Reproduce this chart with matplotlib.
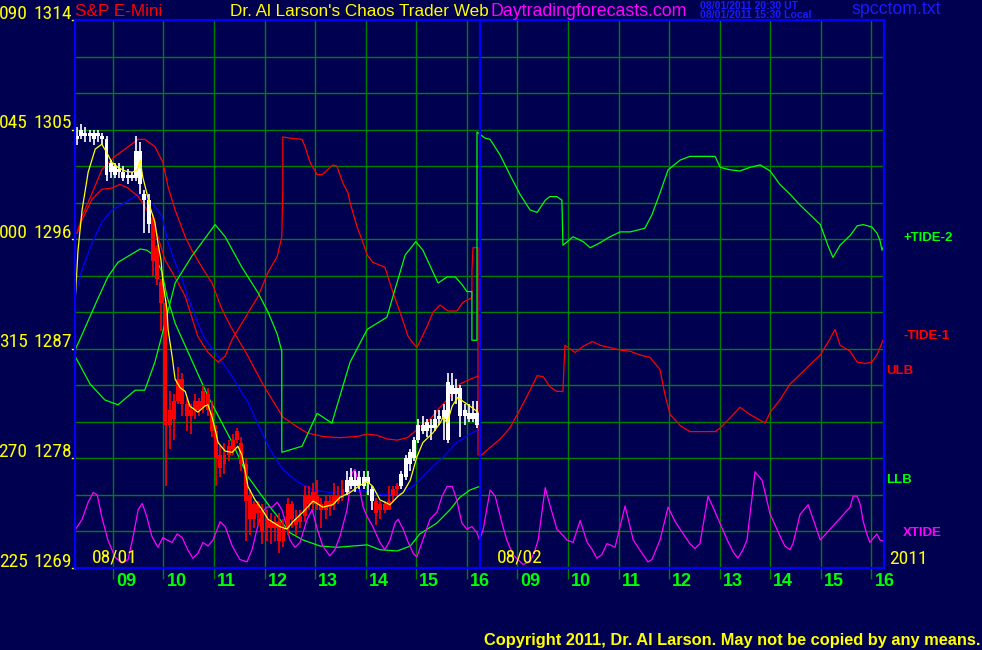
import numpy as np
import matplotlib
matplotlib.use('Agg')
import matplotlib.pyplot as plt
from matplotlib import font_manager as fm
from matplotlib.transforms import blended_transform_factory

names = {f.name for f in fm.fontManager.ttflist}
SANS = 'Liberation Sans' if 'Liberation Sans' in names else 'DejaVu Sans'
NARROW = None
NARROW_STRETCH = 'normal'
for nm in ['Liberation Sans Narrow', 'Arial Narrow', 'Roboto Condensed', 'Open Sans Condensed',
           'Noto Sans Condensed', 'DejaVu Sans Condensed']:
    if nm in names:
        NARROW = nm
        break
if NARROW is None:
    conds = [f for f in fm.fontManager.ttflist
             if f.stretch in ('condensed', 'semi-condensed', 'extra-condensed')
             and f.style == 'normal' and f.weight in (400, 'normal', 'regular')]
    if conds:
        NARROW = conds[0].name
        NARROW_STRETCH = conds[0].stretch
if NARROW is None:
    NARROW = SANS
    NARROW_SIZE = 12.3
else:
    NARROW_SIZE = 14

BG = '#000050'
GRID = '#008000'
BLUE = '#0000FF'
RED = '#FF0000'
GREEN = '#00FF00'
YELLOW = '#FFFF00'
MAGENTA = '#FF00FF'
WHITE = '#FFFFFF'

# ---------------- data ----------------
# axis: session hours from 08:15 of 08/01 (0) to 16:15 of 08/02 (16)
angle_labels = ['090', '045', '000', '315', '270', '225']
price_labels = [1314, 1305, 1296, 1287, 1278, 1269]
hour_labels = ['09', '10', '11', '12', '13', '14', '15', '16']

# 5-minute bars of 08/01
bar_open = [1304.25, 1304.5, 1304.75, 1304.5, 1304.75, 1304.5, 1304.5, 1304.25, 1301.5, 1302,
            1301.5, 1301.5, 1301, 1301.25, 1301, 1303.25, 1299.75, 1299.25, 1297.75, 1295.25,
            1292.5, 1290.75, 1280.75, 1281.25, 1282.75, 1284.5, 1282.5, 1281.5, 1282, 1282.75,
            1282.25, 1283.25, 1281.75, 1280.25, 1278.25, 1277.5, 1278.25, 1278.75, 1279.5, 1279.25,
            1277.5, 1275, 1273, 1274.25, 1273.75, 1272.25, 1272.75, 1272.25, 1272.75, 1271.25,
            1272.25, 1274.25, 1273, 1272.75, 1273.25, 1275, 1274.25, 1275, 1274.25, 1273.75,
            1274.5, 1274.25, 1275, 1274.75, 1275.25, 1275.75, 1276.25, 1275.75, 1276.5, 1276,
            1275.5, 1274.5, 1273.75, 1274.25, 1273.75, 1275, 1275.5, 1275.75, 1276.5, 1277.5,
            1278, 1279.5, 1280.75, 1280.25, 1280.75, 1280.5, 1281.25, 1281.25, 1279.5, 1284,
            1283.25, 1283.75, 1281.5, 1281.75, 1281.25, 1281.75]
bar_high = [1305.25, 1305.5, 1305.25, 1305, 1305, 1305, 1304.75, 1304.5, 1302.5, 1302.25,
            1302.25, 1302, 1301.75, 1301.5, 1304.5, 1304, 1300, 1299.75, 1298, 1295.5,
            1292.75, 1291, 1283.5, 1283.25, 1285.5, 1285, 1283, 1282.5, 1283.25, 1283,
            1284, 1283.75, 1282.75, 1280.75, 1279, 1279.25, 1279.5, 1280, 1280.5, 1279.75,
            1278, 1275.5, 1274.5, 1274.5, 1274.25, 1273.75, 1273.5, 1273.25, 1273.5, 1273,
            1274.75, 1274.5, 1273.75, 1273.75, 1275.75, 1275.75, 1276, 1276.25, 1274.75, 1275,
            1275, 1276, 1275.75, 1276.25, 1277, 1277.25, 1277, 1277, 1277, 1277,
            1275.75, 1274.75, 1274.5, 1274.5, 1275.75, 1275.75, 1276, 1277, 1278.25, 1278.75,
            1279.75, 1281.25, 1281.5, 1281.25, 1281.25, 1282, 1282, 1282.5, 1285, 1285,
            1284.5, 1284, 1282.5, 1282.5, 1282.75, 1282.75]
bar_low = [1303.75, 1304.25, 1304, 1304, 1303.75, 1304, 1303.75, 1300.75, 1301, 1301,
           1301, 1300.75, 1300.5, 1300.75, 1300.75, 1299.75, 1296.5, 1296.5, 1293, 1292.25,
           1288.5, 1275.75, 1278.75, 1279.5, 1282.5, 1281.5, 1280.25, 1280, 1281.25, 1281.5,
           1281.75, 1281.5, 1279.75, 1275.75, 1276.5, 1276.75, 1277.75, 1278.25, 1279.25, 1277,
           1271.25, 1271.75, 1272.25, 1272.5, 1271, 1271.25, 1271, 1271.25, 1270.25, 1270.75,
           1271.75, 1272.25, 1271.75, 1272.25, 1272.75, 1273.75, 1273.75, 1273.75, 1272.25, 1273,
           1273.25, 1273.75, 1274.25, 1274.5, 1275, 1275.5, 1275.25, 1275.5, 1275.5, 1275,
           1273.75, 1272.5, 1273, 1273.5, 1273.75, 1274.5, 1275, 1275.5, 1276.25, 1277,
           1277.75, 1279.25, 1280, 1279.75, 1279.5, 1280.25, 1280.75, 1279.5, 1279.25, 1282.75,
           1282.5, 1279.75, 1280.75, 1281, 1281, 1280.5]
bar_close = [1304.5, 1305, 1304.5, 1304.75, 1304.25, 1304.75, 1304.25, 1301.25, 1302.25, 1301.25,
             1301.75, 1301, 1301.25, 1301, 1303.25, 1300.5, 1299.25, 1297.25, 1294.25, 1292.75,
             1290.75, 1280.75, 1282, 1282.75, 1284.5, 1282.5, 1281.5, 1282, 1282.75, 1282,
             1283.5, 1282, 1280.25, 1278, 1277.25, 1278.25, 1279, 1279.5, 1280.25, 1277.5,
             1274.5, 1273, 1274.25, 1273.5, 1272, 1273, 1272.25, 1272.75, 1271.25, 1272.25,
             1274.25, 1273, 1272.5, 1273.25, 1275, 1274.25, 1275.25, 1274.25, 1273.75, 1274.5,
             1274, 1275, 1274.5, 1275.5, 1276.25, 1276.5, 1275.75, 1276.5, 1275.75, 1276.5,
             1274.5, 1273.5, 1274.25, 1273.75, 1274.5, 1275.5, 1275.75, 1276.75, 1278, 1278.5,
             1279.5, 1280.75, 1280.25, 1281, 1280.5, 1281.25, 1281.5, 1282, 1284.25, 1283.25,
             1283.75, 1281.5, 1282, 1281.25, 1281.75, 1280.75]
bar_color = 'W' * 18 + 'R' * 46 + 'W' * 7 + 'R' * 6 + 'W' * 19

# yellow moving average of price
yellow_t = [0, 0.06, 0.14, 0.26, 0.40, 0.53, 0.63, 0.73, 0.85, 0.99, 1.13, 1.23, 1.29, 1.34, 1.42,
            1.48, 1.58, 1.64, 1.70, 1.74, 1.82, 1.84, 1.92, 1.98, 2.08, 2.18, 2.27, 2.43, 2.57, 2.63,
            2.71, 2.77, 2.83, 2.97, 3.11, 3.22, 3.30, 3.36, 3.42, 3.56, 3.70, 3.82, 4.05, 4.19, 4.31,
            4.51, 4.71, 4.90, 5.10, 5.24, 5.44, 5.64, 5.78, 5.89, 6.03, 6.23, 6.39, 6.49, 6.63, 6.76,
            6.88, 7.08, 7.22, 7.28, 7.36, 7.46, 7.57, 7.67, 7.81, 7.97]
yellow_p = [1290.8, 1295.1, 1298.4, 1301.5, 1303.4, 1303.8, 1303.1, 1302.3, 1301.9, 1301.6, 1301.5,
            1301.7, 1302.5, 1301.1, 1299.8, 1298.7, 1297.4, 1295.7, 1294.3, 1292.4, 1290.2, 1288.6,
            1286.4, 1284.5, 1283.8, 1283.5, 1282.3, 1281.8, 1282.3, 1282.4, 1281.4, 1280.4, 1279.3,
            1278.6, 1278.5, 1279.0, 1278.3, 1277.1, 1275.7, 1274.6, 1273.8, 1273.0, 1272.4, 1272.2,
            1272.8, 1273.6, 1274.5, 1274.0, 1274.2, 1274.8, 1275.2, 1275.8, 1276.1, 1275.7, 1274.6,
            1274.2, 1274.9, 1275.2, 1276.2, 1278.1, 1279.3, 1280.1, 1280.9, 1281.4, 1280.9, 1282.3,
            1283.0, 1282.7, 1282.3, 1281.8]

# blue slow average
blue_t = [0, 0.14, 0.34, 0.53, 0.73, 0.99, 1.25, 1.38, 1.58, 1.72, 1.84, 1.98, 2.12, 2.23, 2.43,
          2.57, 2.83, 3.11, 3.42, 3.70, 3.86, 4.11, 4.39, 4.71, 5.04, 5.44, 5.78, 6.09, 6.43, 6.69,
          7.02, 7.28, 7.55, 7.81, 8.0]
blue_p = [1291.3, 1293.5, 1295.7, 1297.4, 1298.4, 1299.0, 1299.7, 1299.5, 1298.7, 1297.9, 1295.7,
          1294.1, 1292.7, 1291.3, 1289.1, 1287.8, 1286.4, 1284.7, 1282.6, 1280.1, 1278.7, 1277.1,
          1276.1, 1275.4, 1275.2, 1275.3, 1275.4, 1275.0, 1275.1, 1275.7, 1277.1, 1278.1, 1279.3,
          1280.0, 1280.4]

# ULB (red upper band), 08/01
ulb_t = [0.04, 0.14, 0.34, 0.53, 0.79, 0.99, 1.25, 1.38, 1.58, 1.74, 1.84, 1.98, 2.18, 2.31, 2.51,
         2.71, 2.91, 3.11, 3.42, 3.70, 3.86, 4.11, 4.39, 4.59, 4.90, 5.24, 5.58, 5.78, 5.97, 6.17,
         6.37, 6.57, 6.69, 6.82, 7.02, 7.22, 7.42, 7.61, 7.81, 8.0]
ulb_p = [1296.5, 1297.9, 1299.8, 1301.7, 1302.8, 1303.4, 1304.2, 1304.2, 1303.6, 1302.3, 1300.3,
         1298.4, 1296.2, 1295.1, 1293.7, 1292.4, 1290.2, 1288.6, 1286.4, 1284.2, 1283.1, 1281.4,
         1280.6, 1280.1, 1279.8, 1279.7, 1279.8, 1280.0, 1279.9, 1279.6, 1279.5, 1279.7, 1280.1,
         1280.6, 1281.2, 1282.2, 1283.1, 1284.1, 1284.5, 1284.8]

# LLB (green lower band), 08/01
llb_t = [0, 0.10, 0.44, 0.65, 0.85, 1.29, 1.42, 1.58, 1.72, 1.82, 1.98, 2.12, 2.63, 3.11, 3.42,
         3.70, 3.86, 4.05, 4.25, 4.51, 4.85, 5.18, 5.78, 6.03, 6.37, 6.63, 6.82, 7.16, 7.42, 7.61,
         7.81, 8.0]
llb_p = [1286.9, 1287.8, 1291.0, 1292.9, 1294.1, 1295.2, 1295.1, 1294.6, 1293.3, 1291.3, 1289.1,
         1287.8, 1283.1, 1279.3, 1276.5, 1274.9, 1274.0, 1273.0, 1271.9, 1271.3, 1270.8, 1270.7,
         1270.9, 1270.5, 1270.4, 1270.8, 1271.8, 1272.7, 1273.8, 1274.8, 1275.4, 1275.7]

# +TIDE-2 (green), both days
tide2_t = [0, 0.30, 0.59, 0.85, 1.19, 1.38, 1.58, 1.70, 1.98, 2.31, 2.77, 2.97, 3.30, 3.62, 3.82,
           4.00, 4.09, 4.09, 4.49, 4.79, 5.08, 5.44, 5.78, 6.17, 6.33, 6.53, 6.74, 6.88, 7.08, 7.18,
           7.36, 7.52, 7.65, 7.75, 7.85, 7.85, 7.95, 7.95,
           8.11, 8.21, 8.41, 8.60, 8.80, 9.00, 9.14, 9.30, 9.39, 9.53, 9.63, 9.65, 9.85, 10.05,
           10.19, 10.38, 10.58, 10.78, 10.98, 11.27, 11.41, 11.57, 11.73, 11.97, 12.16, 12.66,
           12.76, 12.95, 13.15, 13.35, 13.55, 13.75, 13.94, 14.14, 14.34, 14.54, 14.74, 14.89,
           14.99, 15.13, 15.33, 15.47, 15.59, 15.76, 15.86, 15.92, 15.96, 16.0]
tide2_p = [1286.4, 1284.1, 1282.8, 1282.4, 1283.6, 1283.6, 1285.9, 1287.8, 1292.4, 1294.6, 1297.2,
           1296.2, 1293.7, 1291.6, 1290.0, 1288.2, 1286.8, 1278.5, 1279.0, 1281.7, 1280.9, 1285.9,
           1288.6, 1289.6, 1291.9, 1294.7, 1295.8, 1295.1, 1293.3, 1292.4, 1292.9, 1292.9, 1292.3,
           1291.7, 1291.7, 1287.7, 1287.7, 1304.8,
           1304.3, 1304.2, 1302.9, 1301.3, 1299.7, 1298.4, 1298.2, 1299.2, 1299.5, 1299.5, 1299.2,
           1295.5, 1296.2, 1295.8, 1295.3, 1295.7, 1296.2, 1296.6, 1296.6, 1296.9, 1298.0, 1299.8,
           1301.7, 1302.5, 1302.8, 1302.8, 1301.9, 1301.7, 1301.6, 1301.9, 1302.1, 1301.6, 1300.5,
           1299.7, 1298.8, 1298.0, 1297.2, 1295.5, 1294.5, 1295.5, 1296.3, 1297.1, 1297.2, 1297.0,
           1296.5, 1295.9, 1295.1, 1295.5]

# -TIDE-1 (red), both days
tide1_t = [0.04, 0.14, 0.34, 0.53, 0.73, 0.89, 1.05, 1.25, 1.38, 1.52, 1.64, 1.78, 1.92, 2.04, 2.18,
           2.31, 2.43, 2.63, 2.83, 2.97, 3.11, 3.30, 3.62, 3.82, 4.00, 4.09, 4.11, 4.11, 4.25, 4.49,
           4.55, 4.65, 4.79, 4.89, 5.10, 5.18, 5.30, 5.40, 5.44, 5.58, 5.68, 5.78, 5.89, 6.13, 6.19,
           6.29, 6.43, 6.59, 6.76, 6.96, 7.08, 7.22, 7.38, 7.55, 7.67, 7.85, 7.85, 7.87, 7.97, 7.97,
           8.05, 8.21, 8.41, 8.60, 8.80, 9.00, 9.14, 9.26, 9.39, 9.53, 9.65, 9.67, 9.69, 9.89, 10.05,
           10.23, 10.38, 10.58, 10.78, 10.98, 11.17, 11.37, 11.57, 11.67, 11.77, 11.97, 12.16, 12.66,
           12.76, 12.95, 13.15, 13.35, 13.65, 13.75, 13.94, 14.14, 14.34, 14.54, 14.74, 14.93, 15.03,
           15.13, 15.33, 15.47, 15.63, 15.76, 15.86, 15.92, 16.0]
tide1_p = [1296.5, 1297.6, 1299.3, 1300.1, 1300.2, 1300.5, 1300.2, 1299.5, 1298.7, 1297.6, 1296.2,
           1294.3, 1293.3, 1292.4, 1291.3, 1289.6, 1288.0, 1286.7, 1285.9, 1286.4, 1287.8, 1289.1,
           1291.3, 1293.3, 1294.6, 1296.2, 1300.3, 1304.4, 1304.3, 1304.2, 1303.6, 1302.3, 1301.3,
           1301.3, 1302.1, 1302.0, 1300.6, 1299.8, 1299.0, 1297.0, 1295.9, 1294.7, 1294.1, 1293.7,
           1292.9, 1291.6, 1290.0, 1288.0, 1287.1, 1288.8, 1290.0, 1290.6, 1290.1, 1290.1, 1290.8,
           1291.2, 1293.3, 1295.3, 1295.3, 1278.3,
           1278.3, 1278.9, 1279.6, 1280.5, 1282.0, 1283.6, 1284.8, 1284.7, 1283.9, 1283.5, 1283.5,
           1285.5, 1287.3, 1286.7, 1287.2, 1287.6, 1287.3, 1287.1, 1286.9, 1286.8, 1286.5, 1286.3,
           1285.3, 1283.2, 1281.6, 1280.7, 1280.2, 1280.2, 1280.5, 1281.3, 1282.2, 1281.6, 1280.9,
           1281.8, 1282.8, 1284.1, 1284.9, 1285.7, 1286.5, 1287.8, 1288.6, 1287.3, 1286.8, 1285.9,
           1285.8, 1285.9, 1286.5, 1287.1, 1287.9]

# XTIDE (magenta), both days
xtide_t = [0, 0.14, 0.26, 0.36, 0.44, 0.53, 0.65, 0.79, 0.93, 1.05, 1.15, 1.25, 1.33, 1.42, 1.52,
           1.64, 1.74, 1.82, 1.92, 2.02, 2.12, 2.23, 2.33, 2.43, 2.53, 2.63, 2.73, 2.87, 2.97, 3.11,
           3.26, 3.40, 3.50, 3.60, 3.70, 3.80, 3.90, 4.00, 4.09, 4.19, 4.25, 4.35, 4.45, 4.51, 4.59,
           4.69, 4.79, 4.90, 5.04, 5.14, 5.24, 5.38, 5.48, 5.54, 5.60, 5.70, 5.78, 5.89, 6.03, 6.13,
           6.23, 6.33, 6.39, 6.49, 6.59, 6.69, 6.76, 6.88, 7.02, 7.16, 7.26, 7.36, 7.46, 7.55, 7.65,
           7.75, 7.85, 7.95, 8.0,
           8.07, 8.21, 8.31, 8.45, 8.54, 8.66, 8.86, 9.00, 9.10, 9.16, 9.30, 9.39, 9.53, 9.73, 9.85,
           9.99, 10.13, 10.23, 10.32, 10.42, 10.52, 10.58, 10.68, 10.88, 11.04, 11.17, 11.33, 11.41,
           11.51, 11.57, 11.73, 11.87, 12.16, 12.26, 12.36, 12.52, 12.66, 12.90, 13.02, 13.11, 13.21,
           13.29, 13.45, 13.59, 13.75, 13.98, 14.04, 14.14, 14.20, 14.34, 14.50, 14.64, 14.74, 15.33,
           15.39, 15.47, 15.53, 15.59, 15.66, 15.72, 15.78, 15.86, 15.92, 16.0]
xtide_p = [1272.1, 1273.0, 1274.4, 1275.2, 1275.0, 1273.2, 1271.3, 1269.9, 1269.4, 1269.7, 1271.6,
           1273.8, 1274.3, 1273.2, 1271.6, 1270.7, 1271.5, 1271.3, 1271.1, 1271.8, 1271.5, 1270.5,
           1269.8, 1270.2, 1271.1, 1270.8, 1271.3, 1272.8, 1272.4, 1270.8, 1269.7, 1269.5, 1270.5,
           1272.2, 1273.6, 1274.0, 1274.0, 1274.4, 1273.8, 1272.4, 1271.3, 1270.7, 1271.1, 1271.9,
           1273.0, 1273.8, 1272.2, 1270.8, 1270.0, 1270.5, 1271.6, 1273.8, 1276.8, 1277.1, 1276.0,
           1274.0, 1273.2, 1272.4, 1271.1, 1270.5, 1271.3, 1272.7, 1273.0, 1272.2, 1271.1, 1270.2,
           1269.9, 1271.3, 1273.0, 1273.6, 1274.9, 1275.7, 1275.7, 1274.6, 1272.7, 1272.2, 1272.4,
           1271.9, 1271.3,
           1272.1, 1275.4, 1274.9, 1272.6, 1271.3, 1270.1, 1269.3, 1269.5, 1270.5, 1271.3, 1275.6,
           1274.2, 1272.2, 1271.3, 1271.1, 1272.9, 1271.1, 1270.5, 1269.8, 1270.1, 1271.0, 1270.9,
           1270.7, 1274.1, 1271.3, 1270.5, 1269.5, 1269.7, 1270.7, 1271.3, 1274.0, 1272.8, 1271.0,
           1270.6, 1271.0, 1274.9, 1273.6, 1271.3, 1270.3, 1269.8, 1270.5, 1271.3, 1276.9, 1276.2,
           1273.4, 1271.3, 1270.8, 1270.5, 1271.0, 1273.4, 1274.2, 1272.5, 1271.3, 1274.0, 1274.9,
           1274.9, 1274.2, 1272.8, 1271.8, 1271.1, 1271.4, 1271.8, 1271.3, 1271.2]

# ---------------- figure ----------------
fig = plt.figure(figsize=(9.82, 6.5), dpi=100, facecolor=BG)
ax = fig.add_axes([75 / 982, 1 - 568 / 650, 809 / 982, 548 / 650])
ax.set_facecolor(BG)
ax.set_xlim(0, 16)
ax.set_ylim(1269, 1314)
ax.set_xticks([])
ax.set_yticks([])
for s in ax.spines.values():
    s.set_color(BLUE)
    s.set_linewidth(1.6)
    s.set_zorder(6)

# grid
for p in np.arange(1272, 1312, 3):
    ax.axhline(p, color=GRID, lw=1.0, zorder=1)
session_start = 8.25
hour_pos = []
for day in range(2):
    for h in range(9, 17):
        hour_pos.append(h - session_start + day * 8)
ax.vlines(hour_pos, 1268.1, 1314, color=GRID, lw=1.0, zorder=1, clip_on=False)
ax.axvline(8, color=BLUE, lw=1.6, zorder=6)

LW = 0.9
ax.plot(blue_t, blue_p, color=BLUE, lw=LW, zorder=3)
ax.plot(ulb_t, ulb_p, color=RED, lw=LW, zorder=3)
ax.plot(tide1_t, tide1_p, color=RED, lw=LW, zorder=3)
ax.plot(llb_t, llb_p, color=GREEN, lw=LW, zorder=3)
ax.plot(tide2_t, tide2_p, color=GREEN, lw=LW, zorder=3)
ax.plot(xtide_t, xtide_p, color=MAGENTA, lw=LW, zorder=3)

# price bars
bar_t = np.arange(len(bar_open)) / 12.0 + 0.04
cols = [WHITE if c == 'W' else RED for c in bar_color]
o = np.array(bar_open); c = np.array(bar_close)
ax.vlines(bar_t, bar_low, bar_high, colors=cols, lw=1.2, zorder=4)
bot = np.minimum(o, c)
hgt = np.maximum(np.abs(c - o), 0.15)
ax.bar(bar_t, hgt, bottom=bot, width=0.078, color=cols, linewidth=0, zorder=4)

ax.plot(yellow_t, yellow_p, color=YELLOW, lw=LW, zorder=5)

NK = dict(fontsize=NARROW_SIZE, family=NARROW, fontstretch=NARROW_STRETCH)

# left labels
trans = blended_transform_factory(fig.transFigure, ax.transData)
for a, p in zip(angle_labels, price_labels):
    ax.text(27.5 / 982, p + 0.12, a, transform=trans, ha='right', va='baseline',
            color=YELLOW, clip_on=False, **NK)
    ax.text(72 / 982, p + 0.12, str(p), transform=trans, ha='right', va='baseline',
            color=YELLOW, clip_on=False, **NK)
    ax.plot([-3 / 809, 0], [p, p], transform=ax.get_yaxis_transform(), color=YELLOW,
            lw=1.0, clip_on=False)

# hour labels
xt = ax.get_xaxis_transform()
for hp, lab in zip(hour_pos, hour_labels * 2):
    ax.text(hp + 0.06, -0.024, lab, transform=xt, ha='left', va='center', color=GREEN,
            fontsize=13, fontweight='bold', family=SANS, clip_on=False)

# date labels
ax.text(0.78, 1269.9, '08/01', ha='center', va='center', color=YELLOW, zorder=7, **NK)
ax.text(8.80, 1269.9, '08/02', ha='center', va='center', color=YELLOW, zorder=7, **NK)
ax.text(16.10, 1269.74, '2011', ha='left', va='center', color=YELLOW, clip_on=False, **NK)

# right labels
rl = dict(fontsize=9.5, fontweight='bold', family=SANS, va='center', ha='left', clip_on=False)
ax.text(16.38, 1296.1, '+TIDE-2', color=GREEN, **rl)
ax.text(16.38, 1288.05, '-TIDE-1', color=RED, **rl)
ax.text(16.04, 1285.2, 'ULB', color=RED, **rl)
ax.text(16.04, 1276.2, 'LLB', color=GREEN, **rl)
ax.text(16.38, 1271.9, 'XTIDE', color=MAGENTA, **rl)

# header
fy = 1 - 11 / 650
fig.text(75 / 982, fy, 'S&P E-Mini', color=RED, fontsize=12.3, family=SANS, va='center')
fig.text(230 / 982, fy, "Dr. Al Larson's Chaos Trader Web", color=YELLOW, fontsize=12.3,
         family=SANS, va='center')
fig.text(490 / 982, fy, 'Daytradingforecasts.com', color=MAGENTA, fontsize=12.8,
         family=SANS, va='center')
fig.text(700 / 982, 1 - 6 / 650, '08/01/2011 20:30 UT', color='#1a1aff', fontsize=7.6,
         fontweight='bold', family=SANS, va='center')
fig.text(700 / 982, 1 - 15 / 650, '08/01/2011 15:30 Local', color='#1a1aff', fontsize=7.6,
         fontweight='bold', family=SANS, va='center')
fig.text(851 / 982, 1 - 10 / 650, 'spcctom.txt', color='#1a1aff', fontsize=12.8,
         family=SANS, va='center')

fig.text(981 / 982, 1 - 641 / 650, 'Copyright 2011, Dr. Al Larson. May not be copied by any means.',
         color=YELLOW, fontsize=11.8, fontweight='bold', family=SANS, va='center', ha='right')

fig.savefig('out.png', dpi=100, facecolor=BG)
